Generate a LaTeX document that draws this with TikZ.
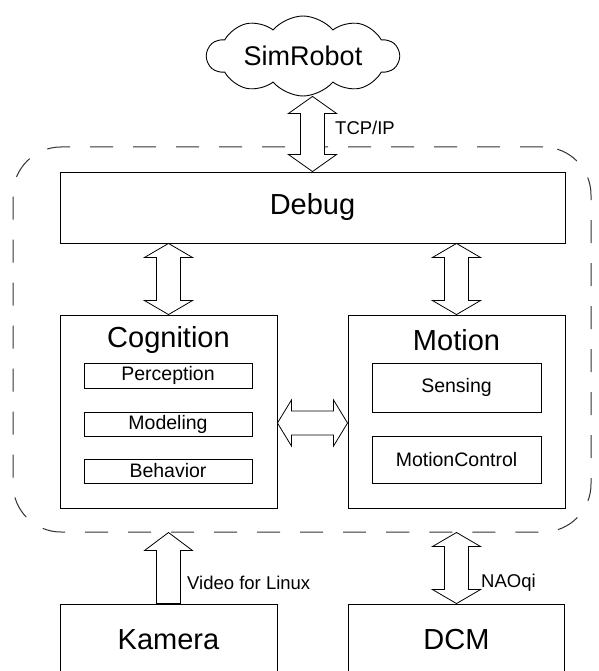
\documentclass[tikz,border=0pt]{standalone}
\usepackage{fontspec}
\setmainfont{Liberation Sans}
\usetikzlibrary{shapes.symbols,calc}
\tikzset{
  box/.style={draw, line width=0.9pt, inner sep=0pt},
  big/.style={font=\fontsize{29}{34}\selectfont},
  small/.style={font=\fontsize{19.5}{23}\selectfont},
  lbl/.style={font=\fontsize{18.5}{22}\selectfont, anchor=west, inner sep=0pt},
  blockarrow/.style={draw, line width=0.8pt, fill=white, line join=miter},
  framebox/.style={draw=black!80, line width=1pt, dash pattern=on 23pt off 20pt, rounded corners=48pt, inner sep=0pt},
}
\newcommand{\vdarr}[3]{%
  \draw[blockarrow] (#1) -- ($(#1)+(24pt,-#3pt)$) -- ($(#1)+(12pt,-#3pt)$) -- ($(#2)+(12pt,#3pt)$) -- ($(#2)+(24pt,#3pt)$) -- (#2) -- ($(#2)+(-24pt,#3pt)$) -- ($(#2)+(-12pt,#3pt)$) -- ($(#1)+(-12pt,-#3pt)$) -- ($(#1)+(-24pt,-#3pt)$) -- cycle;}
\newcommand{\hdarr}[3]{%
  \draw[blockarrow] (#1) -- ($(#1)+(#3pt,23pt)$) -- ($(#1)+(#3pt,12pt)$) -- ($(#2)+(-#3pt,12pt)$) -- ($(#2)+(-#3pt,23pt)$) -- (#2) -- ($(#2)+(-#3pt,-23pt)$) -- ($(#2)+(-#3pt,-12pt)$) -- ($(#1)+(#3pt,-12pt)$) -- ($(#1)+(#3pt,-23pt)$) -- cycle;}
\newcommand{\uparr}[3]{%
  \draw[blockarrow] (#1) -- ($(#1)+(24pt,-#3pt)$) -- ($(#1)+(12pt,-#3pt)$) -- ($(#2)+(12pt,0pt)$) -- ($(#2)+(-12pt,0pt)$) -- ($(#1)+(-12pt,-#3pt)$) -- ($(#1)+(-24pt,-#3pt)$) -- cycle;}
\begin{document}
\begin{tikzpicture}[x=1pt,y=-1pt]
\clip (0,0) rectangle (598,671);
\fill[white] (0,0) rectangle (598,671);

% dashed frame
\node[framebox, minimum width=578pt, minimum height=385pt] (frame) at (302,339.5) {};

% cloud
\node[cloud, draw, line width=0.9pt, cloud puffs=10, cloud puff arc=100, cloud ignores aspect,
      minimum width=192pt, minimum height=80pt, inner sep=0pt,
      font=\fontsize{27}{32}\selectfont] (sim) at (303,56) {SimRobot};

% main boxes
\node[box, big, minimum width=505pt, minimum height=71pt] (debug) at (312.5,207.5) {Debug};
\node[box, minimum width=217pt, minimum height=193pt] (cog) at (168.5,411.5) {};
\node[big, inner sep=0pt] (cogt) at (168.5,340) {Cognition};
\node[box, small, minimum width=168pt, minimum height=25pt] (perc) at (168,375.5) {Perception};
\node[box, small, minimum width=168pt, minimum height=24pt] (model) at (168,424) {Modeling};
\node[box, small, minimum width=168pt, minimum height=24pt] (behav) at (168,471) {Behavior};

\node[box, minimum width=217pt, minimum height=193pt] (mot) at (456.5,411.5) {};
\node[big, inner sep=0pt] (mott) at (456.5,340) {Motion};
\node[box, small, minimum width=169pt, minimum height=49pt] (sens) at (456.5,387.5) {Sensing};
\node[box, small, minimum width=169pt, minimum height=47pt] (mctl) at (456.5,459.5) {MotionControl};

\node[box, big, minimum width=217pt, minimum height=72pt] (kam) at (168.5,640) {Kamera};
\node[box, big, minimum width=216pt, minimum height=72pt] (dcm) at (456.5,640) {DCM};

% connector end points
\coordinate (tcpT) at (debug.north |- sim.south);
\coordinate (dcT) at (cog.north |- debug.south);
\coordinate (dmT) at (mot.north |- debug.south);
\coordinate (cmL) at ($(cog.east)+(0,11.5)$);
\coordinate (cmR) at (cmL -| mot.west);
\coordinate (kamT) at (kam.north |- frame.south);
\coordinate (dcmT) at (dcm.north |- frame.south);

% arrows
\vdarr{tcpT}{debug.north}{17}
\vdarr{dcT}{cog.north}{14}
\vdarr{dmT}{mot.north}{14}
\hdarr{cmL}{cmR}{14}
\uparr{kamT}{kam.north}{18}
\vdarr{dcmT}{dcm.north}{14}

% labels
\node[lbl] (tcp) at (335,128) {TCP/IP};
\node[lbl] (v4l) at (187,583) {Video for Linux};
\node[lbl] (naoqi) at (481,583) {NAOqi};
\end{tikzpicture}
\end{document}
